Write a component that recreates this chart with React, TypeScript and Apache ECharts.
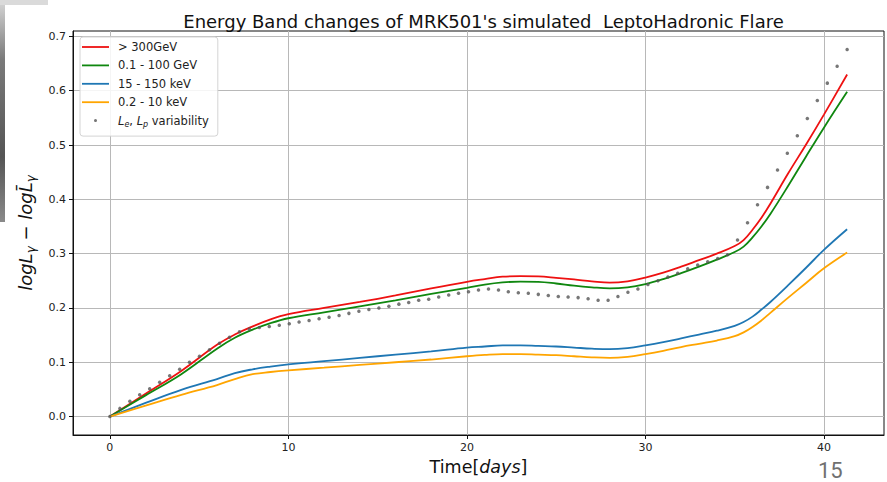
import React, { useEffect, useRef } from "react";
import * as echarts from "echarts";

// ---- data ----
const lineTimes = [0, 2, 4, 6, 7, 8, 9, 10, 12, 14, 16, 18, 20, 21, 22, 23, 24, 25, 26, 27, 28, 29, 30, 31, 32, 33, 34, 35, 35.5, 36, 36.5, 37, 38, 39, 40, 41.3];
const vhe = [0, 0.042, 0.084, 0.132, 0.151, 0.166, 0.179, 0.1885, 0.2, 0.211, 0.223, 0.236, 0.248, 0.253, 0.2575, 0.2585, 0.258, 0.2555, 0.2525, 0.249, 0.2465, 0.249, 0.256, 0.265, 0.276, 0.288, 0.3, 0.314, 0.325, 0.344, 0.366, 0.392, 0.448, 0.501, 0.556, 0.63];
const he = [0, 0.039, 0.078, 0.125, 0.145, 0.16, 0.172, 0.181, 0.192, 0.203, 0.214, 0.226, 0.237, 0.243, 0.247, 0.2485, 0.248, 0.245, 0.241, 0.238, 0.236, 0.238, 0.244, 0.253, 0.264, 0.276, 0.289, 0.303, 0.313, 0.33, 0.35, 0.373, 0.425, 0.479, 0.532, 0.598];
const hardX = [0, 0.025, 0.049, 0.069, 0.08, 0.087, 0.092, 0.096, 0.102, 0.108, 0.114, 0.12, 0.127, 0.129, 0.131, 0.131, 0.13, 0.129, 0.127, 0.125, 0.124, 0.126, 0.131, 0.137, 0.144, 0.151, 0.158, 0.167, 0.174, 0.184, 0.197, 0.211, 0.242, 0.274, 0.307, 0.345];
const softX = [0, 0.02, 0.04, 0.058, 0.069, 0.078, 0.082, 0.085, 0.09, 0.095, 0.1, 0.105, 0.111, 0.1135, 0.115, 0.115, 0.114, 0.113, 0.111, 0.109, 0.108, 0.11, 0.115, 0.121, 0.128, 0.134, 0.14, 0.148, 0.155, 0.165, 0.177, 0.191, 0.219, 0.246, 0.273, 0.302];

const dotTimes = [
  0, 0.56, 1.12, 1.67, 2.23, 2.79, 3.35, 3.91, 4.46, 5.02,
  5.58, 6.14, 6.7, 7.26, 7.81, 8.37, 8.93, 9.49, 10.05, 10.6,
  11.16, 11.72, 12.28, 12.84, 13.39, 13.95, 14.51, 15.07, 15.63, 16.19,
  16.74, 17.3, 17.86, 18.42, 18.98, 19.53, 20.09, 20.65, 21.21, 21.77,
  22.32, 22.88, 23.44, 24.0, 24.56, 25.12, 25.67, 26.23, 26.79, 27.35,
  27.91, 28.46, 29.02, 29.58, 30.14, 30.7, 31.26, 31.81, 32.37, 32.93,
  33.49, 34.05, 34.6, 35.16, 35.72, 36.28, 36.84, 37.4, 37.95, 38.51,
  39.07, 39.63, 40.19, 40.74, 41.3,
];
const dotValues = [
  0, 0.015, 0.028, 0.04, 0.051, 0.063, 0.075, 0.087, 0.1, 0.111,
  0.123, 0.135, 0.146, 0.156, 0.161, 0.164, 0.166, 0.168, 0.171, 0.174,
  0.177, 0.18, 0.183, 0.186, 0.19, 0.194, 0.197, 0.2, 0.203, 0.207,
  0.21, 0.214, 0.216, 0.22, 0.224, 0.227, 0.23, 0.233, 0.235, 0.233,
  0.23, 0.228, 0.227, 0.225, 0.223, 0.221, 0.22, 0.219, 0.217, 0.214,
  0.214, 0.221, 0.229, 0.235, 0.243, 0.25, 0.257, 0.264, 0.272, 0.279,
  0.285, 0.291, 0.298, 0.325, 0.357, 0.39, 0.422, 0.454, 0.485, 0.517,
  0.549, 0.582, 0.614, 0.645, 0.676,
];

const seriesNames = ["> 300GeV", "0.1 - 100 GeV", "15 - 150 keV", "0.2 - 10 keV", "Le, Lp variability"];
const seriesColors = ["#ee1111", "#0f870f", "#1f77b4", "#ffa500", "#555555"];
const xTicks = [0, 10, 20, 30, 40];
const yTicks = [0, 0.1, 0.2, 0.3, 0.4, 0.5, 0.6, 0.7];
const titleText = "Energy Band changes of MRK501's simulated  LeptoHadronic Flare";

const FONT = "DejaVu Sans";
const LINE_ICON = "path://M0 0H30V2H0Z";

export default function App() {
  const ref = useRef<HTMLDivElement>(null);

  useEffect(() => {
    if (!ref.current) return;
    const chart = echarts.init(ref.current, undefined, { renderer: "svg" });
    const lineSets = [vhe, he, hardX, softX];

    const lineSeries = lineSets.map((vals, k) => ({
      name: seriesNames[k],
      type: "line",
      data: lineTimes.map((t, i) => [t, vals[i]]),
      smooth: 0.4,
      symbol: "none",
      showSymbol: false,
      lineStyle: { color: seriesColors[k], width: 1.8 },
      itemStyle: { color: seriesColors[k] },
      z: 2,
    }));

    const option: any = {
      animation: false,
      backgroundColor: "#ffffff",
      title: {
        text: titleText,
        left: 478.5,
        top: 7,
        textAlign: "center",
        textStyle: { fontFamily: FONT, fontSize: 18, fontWeight: "normal", color: "#111" },
      },
      grid: {
        left: 73,
        right: 3,
        top: 31,
        bottom: 47,
        show: true,
        borderColor: "#111",
        borderWidth: 1,
        backgroundColor: "transparent",
      },
      legend: {
        orient: "vertical",
        left: 80,
        top: 37,
        padding: [3, 9, 8, 2],
        itemWidth: 27,
        itemHeight: 3,
        itemGap: 4.4,
        backgroundColor: "rgba(255,255,255,0.85)",
        borderColor: "#d4d4d4",
        borderWidth: 1,
        borderRadius: 3,
        data: seriesNames.map((n, k) => ({ name: n, icon: k < 4 ? LINE_ICON : "circle" })),
        formatter: (name: string) =>
          name === seriesNames[4]
            ? "{i0|L}{s|e}{t|, }{i|L}{s|p}{t| variability}"
            : `{n|${name}}`,
        textStyle: {
          fontFamily: FONT,
          fontSize: 11.5,
          color: "#222",
          lineHeight: 14,
          rich: {
            n: { padding: [0, 0, 0, 4] },
            t: {},
            i0: { fontStyle: "italic", padding: [0, 0, 0, 4] },
            i: { fontStyle: "italic" },
            s: { fontStyle: "italic", fontSize: 8, padding: [7, 0, 0, 0] },
          },
        },
      },
      xAxis: {
        type: "value",
        min: -2.065,
        max: 43.365,
        name: "{n|Time[}{i|days}{n|]}",
        nameLocation: "middle",
        nameGap: 23,
        nameTextStyle: {
          fontFamily: FONT,
          fontSize: 17.5,
          color: "#111",
          rich: {
            n: { fontFamily: FONT, fontSize: 17.5, color: "#111" },
            i: { fontFamily: FONT, fontSize: 17.5, color: "#111", fontStyle: "italic" },
          },
        },
        axisLine: { show: true, onZero: false, lineStyle: { color: "#111", width: 1 } },
        axisTick: { show: true, length: 4, lineStyle: { color: "#111" }, customValues: xTicks },
        axisLabel: {
          customValues: xTicks,
          fontFamily: FONT,
          fontSize: 11,
          color: "#222",
          margin: 7,
          formatter: (v: number) => String(Math.round(v)),
        },
        splitLine: { show: true, lineStyle: { color: "#b8b8b8", width: 1 } },
      },
      yAxis: {
        type: "value",
        min: -0.034,
        max: 0.71,
        name: "{i|logL}{s|γ}{n| − }{i|logL\u0304}{s|γ}",
        nameLocation: "middle",
        nameRotate: 90,
        nameGap: 36,
        nameTextStyle: {
          fontFamily: FONT,
          fontSize: 18,
          color: "#111",
          rich: {
            i: { fontFamily: FONT, fontSize: 18, fontStyle: "italic", color: "#111" },
            n: { fontFamily: FONT, fontSize: 18, color: "#111" },
            s: { fontFamily: FONT, fontSize: 12, fontStyle: "italic", color: "#111", padding: [11, 0, 0, 0] },
          },
        },
        axisLine: { show: true, onZero: false, lineStyle: { color: "#111", width: 1 } },
        axisTick: { show: true, length: 4, lineStyle: { color: "#111" }, customValues: yTicks },
        axisLabel: {
          customValues: yTicks,
          fontFamily: FONT,
          fontSize: 11,
          color: "#222",
          margin: 7,
          formatter: (v: number) => v.toFixed(1),
        },
        splitLine: { show: true, lineStyle: { color: "#b8b8b8", width: 1 } },
      },
      graphic: [
        { type: "rect", silent: true, shape: { x: 0, y: 0, width: 48, height: 5 }, style: { fill: "#dadada" } },
        {
          type: "rect",
          silent: true,
          shape: { x: 0, y: 5, width: 5, height: 217 },
          style: {
            fill: new echarts.graphic.LinearGradient(0, 0, 0, 1, [
              { offset: 0, color: "#cfcfcf" },
              { offset: 0.25, color: "#7a7a7a" },
              { offset: 0.7, color: "#555555" },
              { offset: 1, color: "#8a8a8a" },
            ]),
          },
        },
        {
          type: "text",
          silent: true,
          x: 818,
          y: 459,
          style: { text: "15", fontFamily: "Roboto", fontSize: 22, fill: "#707070", verticalAlign: "top" },
        },
      ],
      series: [
        ...lineSeries,
        {
          name: seriesNames[4],
          type: "scatter",
          data: dotTimes.map((t, i) => [t, dotValues[i]]),
          symbol: "circle",
          symbolSize: 3.5,
          itemStyle: { color: seriesColors[4] },
          z: 3,
        },
      ],
    };

    chart.setOption(option);
    return () => chart.dispose();
  }, []);

  return (
    <div
      ref={ref}
      style={{ position: "fixed", left: 0, top: 0, width: 887, height: 482, background: "#fff" }}
    />
  );
}
